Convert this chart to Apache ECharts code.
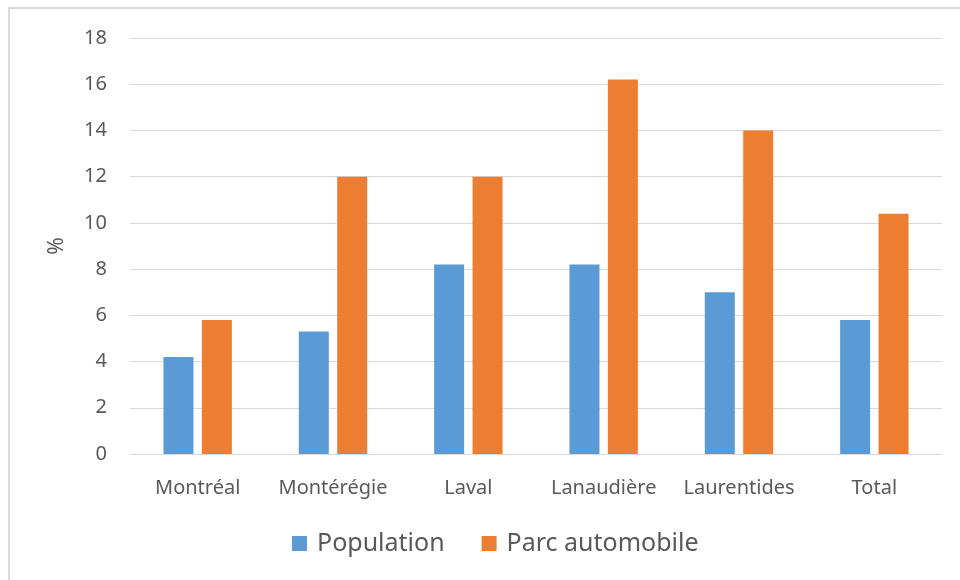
<!DOCTYPE html>
<html>
<head>
<meta charset="utf-8">
<script src="https://cdn.jsdelivr.net/npm/echarts@6/dist/echarts.min.js"></script>
<style>
  html, body { margin: 0; padding: 0; background: #ffffff; }
  #chart { width: 960px; height: 580px; }
</style>
</head>
<body>
<div id="chart"></div>
<script>
const regions = ['Montréal', 'Montérégie', 'Laval', 'Lanaudière', 'Laurentides', 'Total'];
const population = [4.2, 5.3, 8.2, 8.2, 7.0, 5.8];
const parcAutomobile = [5.8, 12.0, 12.0, 16.2, 14.0, 10.4];
const seriesNames = ['Population', 'Parc automobile'];

const textColor = '#595959';
const gridColor = '#d9d9d9';
const fontFamily = '"Noto Sans", "Open Sans", sans-serif';

const chart = echarts.init(document.getElementById('chart'));

chart.setOption({
  backgroundColor: '#ffffff',
  animation: false,
  color: ['#5B9BD5', '#ED7D31'],
  textStyle: { fontFamily: fontFamily, color: textColor },
  graphic: [
    {
      type: 'rect',
      shape: { x: 9, y: 8, width: 1000, height: 1000 },
      style: { fill: 'none', stroke: gridColor, lineWidth: 2 },
      silent: true
    }
  ],
  grid: { left: 130, right: 18, top: 38, bottom: 126 },
  legend: {
    data: seriesNames,
    left: 292,
    top: 531,
    padding: 0,
    icon: 'rect',
    itemWidth: 15,
    itemHeight: 15,
    itemGap: 37,
    textStyle: { fontSize: 25, lineHeight: 25, color: textColor, fontFamily: fontFamily, padding: [0, 0, 0, 5] }
  },
  xAxis: {
    type: 'category',
    data: regions,
    axisTick: { show: false },
    axisLine: { lineStyle: { color: gridColor, width: 1 } },
    axisLabel: { color: textColor, fontSize: 20, margin: 24, interval: 0, fontFamily: fontFamily }
  },
  yAxis: {
    type: 'value',
    min: 0,
    max: 18,
    interval: 2,
    name: '%',
    nameLocation: 'middle',
    nameGap: 62,
    nameTextStyle: { color: textColor, fontSize: 21, fontFamily: fontFamily },
    axisLine: { show: false },
    axisTick: { show: false },
    axisLabel: { color: textColor, fontSize: 20, margin: 23, fontFamily: fontFamily },
    splitLine: { lineStyle: { color: gridColor, width: 1 } }
  },
  series: [
    {
      name: seriesNames[0],
      type: 'bar',
      barWidth: 30,
      barGap: '28%',
      data: population
    },
    {
      name: seriesNames[1],
      type: 'bar',
      barWidth: 30,
      barGap: '28%',
      data: parcAutomobile
    }
  ]
});
</script>
</body>
</html>
